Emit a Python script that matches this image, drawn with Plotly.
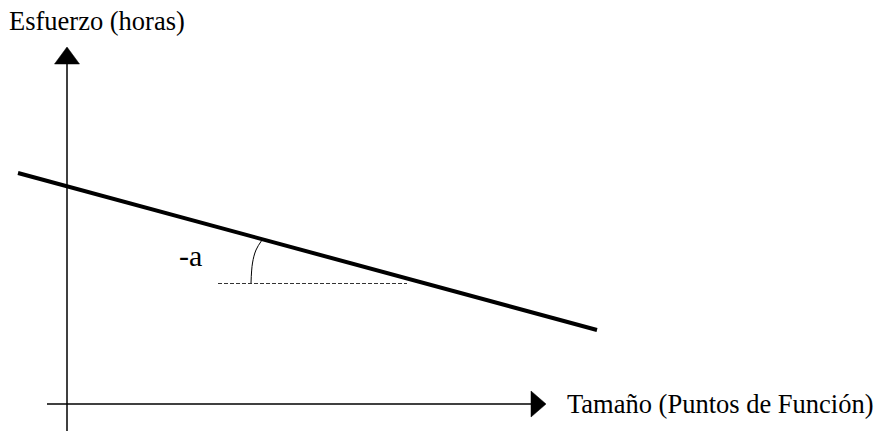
import plotly.graph_objects as go

# Coordinate system: origin at the axes crossing
# Trend line (Esfuerzo vs Tamaño)
trend_x = [-49, 530]
trend_y = [231, 74]

# Axes (drawn as lines) and arrowheads
yaxis_line_x = [0, 0]
yaxis_line_y = [-27, 340]
yarrow_x = [-12.5, 12.5, 0, -12.5]
yarrow_y = [340, 340, 357, 340]

xaxis_line_x = [-20, 464]
xaxis_line_y = [0, 0]
xarrow_x = [464, 464, 479, 464]
xarrow_y = [13, -13, 0, 13]

# Horizontal reference (dashed) and angle arc
ref_x = [151, 340]
ref_y = [120.5, 120.5]
arc_x = [184, 185.5, 189, 195]
arc_y = [121, 141, 154, 164]

# Labels
label_y_axis = "Esfuerzo (horas)"
label_x_axis = "Tamaño (Puntos de Función)"
label_angle = "-a"
label_y_pos = (-60, 383)
label_x_pos = (498, 0)
label_angle_pos = (110, 149)

fig = go.Figure()

fig.add_trace(go.Scatter(x=yaxis_line_x, y=yaxis_line_y, mode="lines",
                         line=dict(color="black", width=1.5), hoverinfo="skip"))
fig.add_trace(go.Scatter(x=yarrow_x, y=yarrow_y, mode="lines", fill="toself",
                         fillcolor="black", line=dict(color="black", width=0.5), hoverinfo="skip"))
fig.add_trace(go.Scatter(x=xaxis_line_x, y=xaxis_line_y, mode="lines",
                         line=dict(color="black", width=1.5), hoverinfo="skip"))
fig.add_trace(go.Scatter(x=xarrow_x, y=xarrow_y, mode="lines", fill="toself",
                         fillcolor="black", line=dict(color="black", width=0.5), hoverinfo="skip"))
fig.add_trace(go.Scatter(x=ref_x, y=ref_y, mode="lines",
                         line=dict(color="#333333", width=1, dash="4px,2px"), hoverinfo="skip"))
fig.add_trace(go.Scatter(x=arc_x, y=arc_y, mode="lines",
                         line=dict(color="black", width=1, shape="spline"), hoverinfo="skip"))
fig.add_trace(go.Scatter(x=trend_x, y=trend_y, mode="lines",
                         line=dict(color="black", width=4), hoverinfo="skip"))

font = dict(family="Liberation Serif, Times New Roman, serif", color="black")
fig.add_annotation(x=label_y_pos[0], y=label_y_pos[1], text=label_y_axis, showarrow=False,
                   xanchor="left", yanchor="middle", font=dict(size=26.5, **font))
fig.add_annotation(x=label_x_pos[0], y=label_x_pos[1], text=label_x_axis, showarrow=False,
                   xanchor="left", yanchor="middle", font=dict(size=26.5, **font))
fig.add_annotation(x=label_angle_pos[0], y=label_angle_pos[1], text=label_angle, showarrow=False,
                   xanchor="left", yanchor="middle", font=dict(size=30, **font))

fig.update_layout(
    width=877, height=431,
    margin=dict(l=0, r=0, t=0, b=0),
    paper_bgcolor="white", plot_bgcolor="white",
    showlegend=False,
    xaxis=dict(range=[-67, 810], visible=False, fixedrange=True),
    yaxis=dict(range=[-27, 404], visible=False, fixedrange=True),
)

fig.write_html("out.html", config={"displayModeBar": False},
               post_script="document.body.style.margin='0px';")
